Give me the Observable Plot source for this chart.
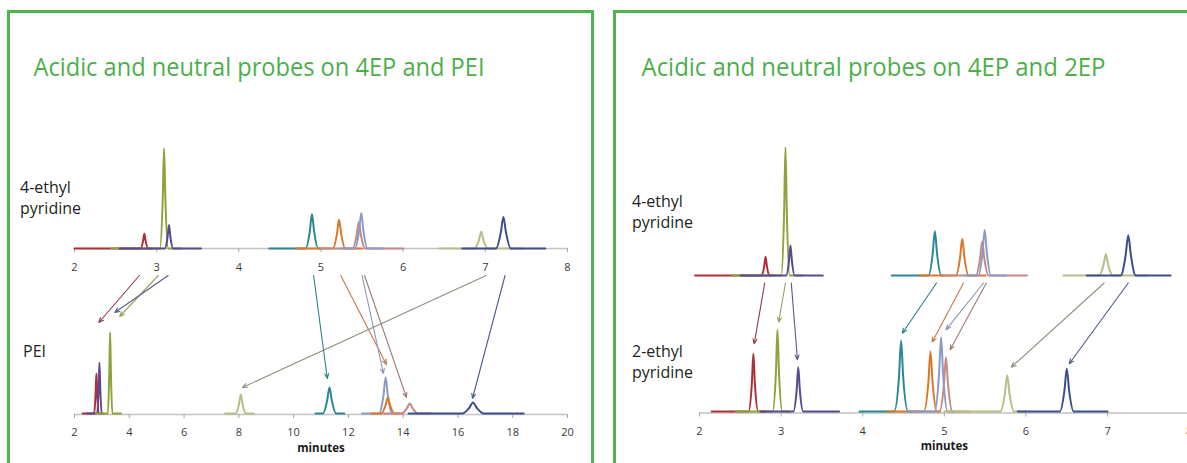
<!DOCTYPE html>
<html><head><meta charset="utf-8">
<script src="https://cdn.jsdelivr.net/npm/d3@7"></script>
<script src="https://cdn.jsdelivr.net/npm/@observablehq/plot@0.6"></script>
<style>
html,body{margin:0;padding:0;background:#fff;overflow:hidden;}
#page{position:relative;width:1187px;height:463px;overflow:hidden;font-family:"Open Sans",sans-serif;}
#page svg{position:absolute;}
</style></head><body><div id="page"></div><script>
// ---------- data ----------
const probes = ["probe 1","probe 2","probe 3","probe 4","probe 5","probe 6","probe 7","probe 8","probe 9"];
const probeColors = ["#ad2f3a","#8ca43a","#5a4a8e","#2b8792","#d9782a","#8e9ac6","#c48a84","#b8bd86","#3e4e8b"];
const arrowColors = ["#8e3d48","#93a45e","#5a5a92","#2f7f84","#c27a48","#8c94b4","#9e7c72","#8f907c","#4a5b8e"];

// 4-ethyl pyridine (4EP): retention time (min), peak height, half width at half max (min), base half width (min), trace start/end (min)
const ep4Time   = [2.85, 3.09, 3.15, 4.89, 5.22, 5.49, 5.46, 6.95, 7.22];
const ep4Height = [14.7, 100, 23.5, 34.6, 28.7, 35.6, 26.5, 16.7, 31.4];
const ep4Hwhm   = [0.016, 0.016, 0.017, 0.026, 0.026, 0.026, 0.026, 0.028, 0.032];
const ep4Base   = [0.045, 0.05, 0.05, 0.075, 0.075, 0.075, 0.075, 0.08, 0.09];
const ep4Start  = [2.0, 2.45, 2.55, 4.37, 4.7, 5.25, 5.0, 6.44, 6.72];
const ep4End    = [2.95, 3.3, 3.54, 5.0, 5.5, 5.75, 6.0, 7.45, 7.73];
const ep4Order  = [0, 1, 2, 3, 4, 6, 5, 7, 8];

// PEI
const peiTime   = [2.80, 3.30, 2.91, 11.31, 13.44, 13.36, 14.24, 8.07, 16.55];
const peiHeight = [40, 81, 51, 26, 16, 36, 10, 19, 11];
const peiHwhm   = [0.03, 0.03, 0.03, 0.085, 0.085, 0.08, 0.11, 0.065, 0.14];
const peiBase   = [0.08, 0.08, 0.08, 0.24, 0.24, 0.24, 0.3, 0.18, 0.38];
const peiStart  = [2.3, 2.8, 2.45, 10.8, 12.85, 12.5, 13.3, 7.5, 14.2];
const peiEnd    = [3.0, 3.7, 3.05, 11.85, 14.0, 13.9, 15.0, 8.55, 18.4];
const peiOrder  = [0, 2, 1, 7, 3, 5, 4, 6, 8];

// 2-ethyl pyridine (2EP)
const ep2Time   = [2.66, 2.955, 3.21, 4.47, 4.83, 4.96, 5.02, 5.77, 6.50];
const ep2Height = [57.7, 81.7, 44.3, 71, 60, 74.3, 54.3, 36.3, 42.7];
const ep2Hwhm   = [0.018, 0.018, 0.019, 0.025, 0.025, 0.025, 0.025, 0.028, 0.028];
const ep2Base   = [0.06, 0.06, 0.06, 0.085, 0.08, 0.08, 0.08, 0.085, 0.085];
const ep2Start  = [2.15, 2.45, 2.75, 3.96, 4.3, 4.55, 4.6, 5.0, 5.9];
const ep2End    = [2.8, 3.1, 3.71, 4.6, 4.95, 5.1, 5.3, 6.0, 7.0];
const ep2Order  = [0, 1, 2, 3, 4, 6, 5, 7, 8];

// arrows 4EP -> PEI : start time (4EP axis), end time (PEI axis), end signal (PEI units)
const arrPeiFrom = [2.79, 3.02, 3.14, 4.91, 5.24, 5.50, 5.53, 7.01, 7.24];
const arrPeiTo   = [2.89, 3.65, 3.47, 11.23, 13.39, 13.28, 14.12, 8.13, 16.53];
const arrPeiToY  = [91, 97, 101, 35, 49, 40, 16, 26, 15];
// arrows 4EP -> 2EP
const arrEp2From = [2.84, 3.09, 3.16, 4.91, 5.235, 5.476, 5.51, 6.93, 7.22];
const arrEp2To   = [2.67, 2.97, 3.20, 4.485, 4.85, 5.02, 5.07, 5.82, 6.53];
const arrEp2ToY  = [67.7, 89.3, 51.7, 78.3, 69.3, 81.7, 61.7, 44.3, 47.7];

const ticksShort = [2, 3, 4, 5, 6, 7, 8];
const ticksLong  = [2, 4, 6, 8, 10, 12, 14, 16, 18, 20];
const titles = ["Acidic and neutral probes on 4EP and PEI", "Acidic and neutral probes on 4EP and 2EP"];

// ---------- helpers ----------
const page = document.getElementById("page");
const FONT = "'Open Sans', sans-serif";

function traceRows(time, height, hwhm, base, start, end, order) {
  const rows = [];
  for (const i of order) {
    const t = time[i], h = height[i], w = hwhm[i], b = base[i];
    let pts = [[start[i], 0], [t - b, 0], [t - w, h / 2], [t, h], [t + w, h / 2], [t + b, 0], [end[i], 0]];
    pts = pts.filter((p, k) => k === 0 || p[0] > pts[k - 1][0] + 1e-6);
    for (const [x, y] of pts) rows.push({probe: probes[i], color: probeColors[i], x, y});
  }
  return rows;
}

function sub(cfg) {
  const marks = [];
  if (cfg.ticks) {
    marks.push(Plot.ruleY([0], {stroke: "#c2c2c2", strokeWidth: 1.3, dy: cfg.axisDy || 0}));
    marks.push(Plot.axisX({ticks: cfg.ticks, tickSize: 4, tickPadding: cfg.tickPad, tickFormat: d => String(d),
      stroke: "#a8a8a8", fill: "#3a3a3a", fontSize: 11, label: null, dy: cfg.axisDy || 0}));
  }
  marks.push(Plot.line(cfg.rows, {x: "x", y: "y", z: "probe", stroke: "color", strokeWidth: 2, curve: "monotone-x", strokeLinejoin: "round"}));
  if (cfg.xlabel) marks.push(Plot.text([cfg.xlabel], {text: d => d, frameAnchor: "bottom", dy: 38, fontWeight: "bold", fontSize: 11.5, fill: "#1a1a1a"}));
  const p = Plot.plot({
    width: cfg.width, height: cfg.height,
    marginLeft: cfg.ml, marginRight: cfg.mr, marginTop: cfg.mt, marginBottom: cfg.mb,
    x: cfg.ticks ? {domain: cfg.xdomain} : {domain: cfg.xdomain, axis: null},
    y: {domain: [0, 100], axis: null},
    color: {type: "identity"},
    style: {fontFamily: FONT, background: "transparent", overflow: "visible"},
    marks
  });
  p.style.left = cfg.left + "px";
  p.style.top = cfg.top + "px";
  page.appendChild(p);
  const sx = p.scale("x"), sy = p.scale("y");
  const fx = d3.scaleLinear(sx.domain, sx.range), fy = d3.scaleLinear(sy.domain, sy.range);
  return {x: v => cfg.left + fx(v), y: v => cfg.top + fy(v)};
}

// ---------- background: frames, titles, sample labels ----------
const bg = d3.select(page).append("svg").attr("width", 1187).attr("height", 463).style("left", "0px").style("top", "0px");
bg.append("rect").attr("x", 8.5).attr("y", 11.5).attr("width", 584).attr("height", 600).attr("fill", "none").attr("stroke", "#4fb34f").attr("stroke-width", 3);
bg.append("rect").attr("x", 614.5).attr("y", 11.5).attr("width", 700).attr("height", 600).attr("fill", "none").attr("stroke", "#4fb34f").attr("stroke-width", 3);
[[33.5, 451], [641.5, 464]].forEach(([x, len], i) => {
  bg.append("text").attr("x", x).attr("y", 76).attr("textLength", len).attr("lengthAdjust", "spacingAndGlyphs")
    .attr("font-family", FONT).attr("font-size", 25).attr("fill", "#4caf4c").text(titles[i]);
});
const sampleLabels = [
  {x: 20, y: 193, lines: ["4-ethyl", "pyridine"]},
  {x: 23, y: 357, lines: ["PEI"]},
  {x: 632, y: 207, lines: ["4-ethyl", "pyridine"]},
  {x: 632, y: 357, lines: ["2-ethyl", "pyridine"]}
];
for (const s of sampleLabels) {
  const t = bg.append("text").attr("font-family", FONT).attr("font-size", 16).attr("fill", "#231f20");
  s.lines.forEach((l, k) => t.append("tspan").attr("x", s.x).attr("y", s.y + k * 20.5).text(l));
}

// ---------- sub charts ----------
const ep4Rows = traceRows(ep4Time, ep4Height, ep4Hwhm, ep4Base, ep4Start, ep4End, ep4Order);
const LT = sub({left: 0, top: 130, width: 600, height: 160, ml: 74, mr: 33, mt: 18, mb: 42, xdomain: [2, 8], ticks: ticksShort, tickPad: 11, rows: ep4Rows});
const LB = sub({left: 0, top: 300, width: 600, height: 163, ml: 74, mr: 33, mt: 13, mb: 50, xdomain: [2, 20], ticks: ticksLong, tickPad: 10, axisDy: 1,
  rows: traceRows(peiTime, peiHeight, peiHwhm, peiBase, peiStart, peiEnd, peiOrder), xlabel: "minutes"});
const RT = sub({left: 600, top: 130, width: 587, height: 165, ml: 94.5, mr: 11.1, mt: 17, mb: 20, xdomain: [2, 7.8], rows: ep4Rows});
const RB = sub({left: 600, top: 290, width: 600, height: 173, ml: 99, mr: 11.3, mt: 21, mb: 52, xdomain: [2, 8], ticks: ticksShort, tickPad: 10, axisDy: 1.5,
  rows: traceRows(ep2Time, ep2Height, ep2Hwhm, ep2Base, ep2Start, ep2End, ep2Order), xlabel: "minutes"});

// ---------- arrows ----------
const arrows = [];
probes.forEach((p, i) => {
  arrows.push({x1: LT.x(arrPeiFrom[i]), y1: LT.y(0) + 27, x2: LB.x(arrPeiTo[i]), y2: LB.y(arrPeiToY[i]), color: arrowColors[i]});
  arrows.push({x1: RT.x(arrEp2From[i]), y1: RT.y(0) + 7.5, x2: RB.x(arrEp2To[i]), y2: RB.y(arrEp2ToY[i]), color: arrowColors[i]});
});
const ov = Plot.plot({
  width: 1187, height: 463, margin: 0,
  x: {type: "identity", axis: null}, y: {type: "identity", axis: null}, color: {type: "identity"},
  style: {background: "transparent"},
  marks: [Plot.arrow(arrows, {x1: "x1", y1: "y1", x2: "x2", y2: "y2", stroke: "color", strokeWidth: 1.1, headLength: 7, headAngle: 45})]
});
ov.style.left = "0px"; ov.style.top = "0px"; ov.style.pointerEvents = "none";
page.appendChild(ov);
</script></body></html>
